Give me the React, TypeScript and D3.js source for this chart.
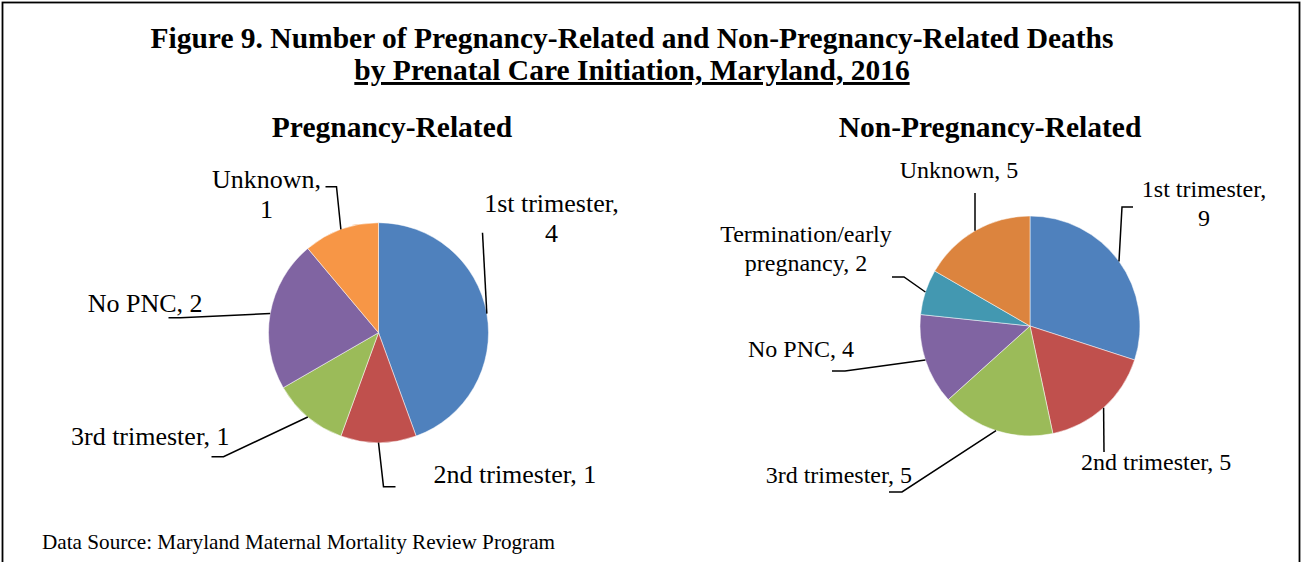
import React, {useEffect, useRef} from 'react'
import * as d3 from 'd3'

// data
const leftCategories = ['1st trimester', '2nd trimester', '3rd trimester', 'No PNC', 'Unknown']
const leftValues = [4, 1, 1, 2, 1]
const leftColors = ['#4F81BD', '#C0504D', '#9BBB59', '#8064A2', '#F79646']

const rightCategories = ['1st trimester', '2nd trimester', '3rd trimester', 'No PNC', 'Termination/early pregnancy', 'Unknown']
const rightValues = [9, 5, 5, 4, 2, 5]
const rightColors = ['#4F81BD', '#C0504D', '#9BBB59', '#8064A2', '#4398B1', '#DC843E']

// label layout, relative to the pie center: text lines, anchor, elbow points of the leader
const leftLabels = [
  {lines: ['1st trimester,', '4'], x: 173, y: -121, anchor: 'middle', pts: [[104, -100]]},
  {lines: ['2nd trimester, 1'], x: 55, y: 150, anchor: 'start', pts: [[5, 154], [17, 154]]},
  {lines: ['3rd trimester, 1'], x: -149, y: 112, anchor: 'end', pts: [[-155, 124], [-167, 124]]},
  {lines: ['No PNC, 2'], x: -176, y: -21, anchor: 'end', pts: [[-198, -15], [-210, -15]]},
  {lines: ['Unknown,', '1'], x: -112, y: -145, anchor: 'middle', pts: [[-42, -146], [-53, -146]]}
]
const rightLabels = [
  {lines: ['1st trimester,', '9'], x: 174, y: -129, anchor: 'middle', pts: [[92, -119], [103, -119]]},
  {lines: ['2nd trimester, 5'], x: 51, y: 144, anchor: 'start', pts: [[74, 126]]},
  {lines: ['3rd trimester, 5'], x: -118, y: 157, anchor: 'end', pts: [[-128, 166], [-141, 166]]},
  {lines: ['No PNC, 4'], x: -176, y: 31, anchor: 'end', pts: [[-185, 45], [-198, 45]]},
  {lines: ['Termination/early', 'pregnancy, 2'], x: -224, y: -84, anchor: 'middle', pts: [[-126, -49], [-138, -49]]},
  {lines: ['Unknown, 5'], x: -71, y: -148, anchor: 'middle', pts: [[-55, -133]]}
]

const W = 1302
const H = 562
const serif = '"Liberation Serif", "Times New Roman", serif'

function drawPie (svg, cx, cy, r, values, colors, labels, fontSize, lineGap) {
  const pie = d3.pie().sort(null).value(d => d)
  const arcs = pie(values)
  const arc = d3.arc().innerRadius(0).outerRadius(r)
  const edge = d3.arc().innerRadius(r).outerRadius(r)
  const g = svg.append('g').attr('transform', `translate(${cx},${cy})`)

  g.selectAll('path.slice').data(arcs).enter().append('path')
    .attr('class', 'slice')
    .attr('d', arc)
    .attr('fill', (d, i) => colors[i])
    .attr('stroke', '#fff')
    .attr('stroke-width', 0.5)

  const line = d3.line()
  arcs.forEach((d, i) => {
    const lab = labels[i]
    const start = edge.centroid(d)
    g.append('path')
      .attr('d', line([start, ...lab.pts]))
      .attr('fill', 'none')
      .attr('stroke', '#000')
      .attr('stroke-width', 1.5)
    const t = g.append('text')
      .attr('x', lab.x)
      .attr('y', lab.y)
      .attr('text-anchor', lab.anchor)
      .attr('font-family', serif)
      .attr('font-size', fontSize)
      .attr('fill', '#000')
    lab.lines.forEach((s, j) => {
      t.append('tspan').attr('x', lab.x).attr('dy', j === 0 ? 0 : lineGap).text(s)
    })
  })
}

export default function App () {
  const ref = useRef(null)
  useEffect(() => {
    const svg = d3.select(ref.current)
    svg.selectAll('*').remove()

    svg.append('rect').attr('x', 2.5).attr('y', 2.5).attr('width', W - 5).attr('height', H + 20)
      .attr('fill', '#fff').attr('stroke', '#000').attr('stroke-width', 1.8)

    svg.append('text').attr('x', 632).attr('y', 48).attr('text-anchor', 'middle')
      .attr('font-family', serif).attr('font-weight', 'bold').attr('font-size', 29.5)
      .text('Figure 9. Number of Pregnancy-Related and Non-Pregnancy-Related Deaths')
    svg.append('text').attr('x', 632).attr('y', 80).attr('text-anchor', 'middle')
      .attr('font-family', serif).attr('font-weight', 'bold').attr('font-size', 29.5)
      .attr('text-decoration', 'underline')
      .text('by Prenatal Care Initiation, Maryland, 2016')

    svg.append('text').attr('x', 392).attr('y', 137).attr('text-anchor', 'middle')
      .attr('font-family', serif).attr('font-weight', 'bold').attr('font-size', 29.5)
      .text('Pregnancy-Related')
    svg.append('text').attr('x', 990).attr('y', 137).attr('text-anchor', 'middle')
      .attr('font-family', serif).attr('font-weight', 'bold').attr('font-size', 29.5)
      .text('Non-Pregnancy-Related')

    drawPie(svg, 378.5, 332.7, 110, leftValues, leftColors, leftLabels, 26, 30)
    drawPie(svg, 1030, 326, 110, rightValues, rightColors, rightLabels, 24, 29)

    svg.append('text').attr('x', 42).attr('y', 549)
      .attr('font-family', serif).attr('font-size', 21.2)
      .text('Data Source: Maryland Maternal Mortality Review Program')
  }, [])
  return (
    <div style={{position: 'absolute', left: 0, top: 0}}>
      <svg ref={ref} width={W} height={H} aria-label={[...leftCategories, ...rightCategories].join(', ')} />
    </div>
  )
}
